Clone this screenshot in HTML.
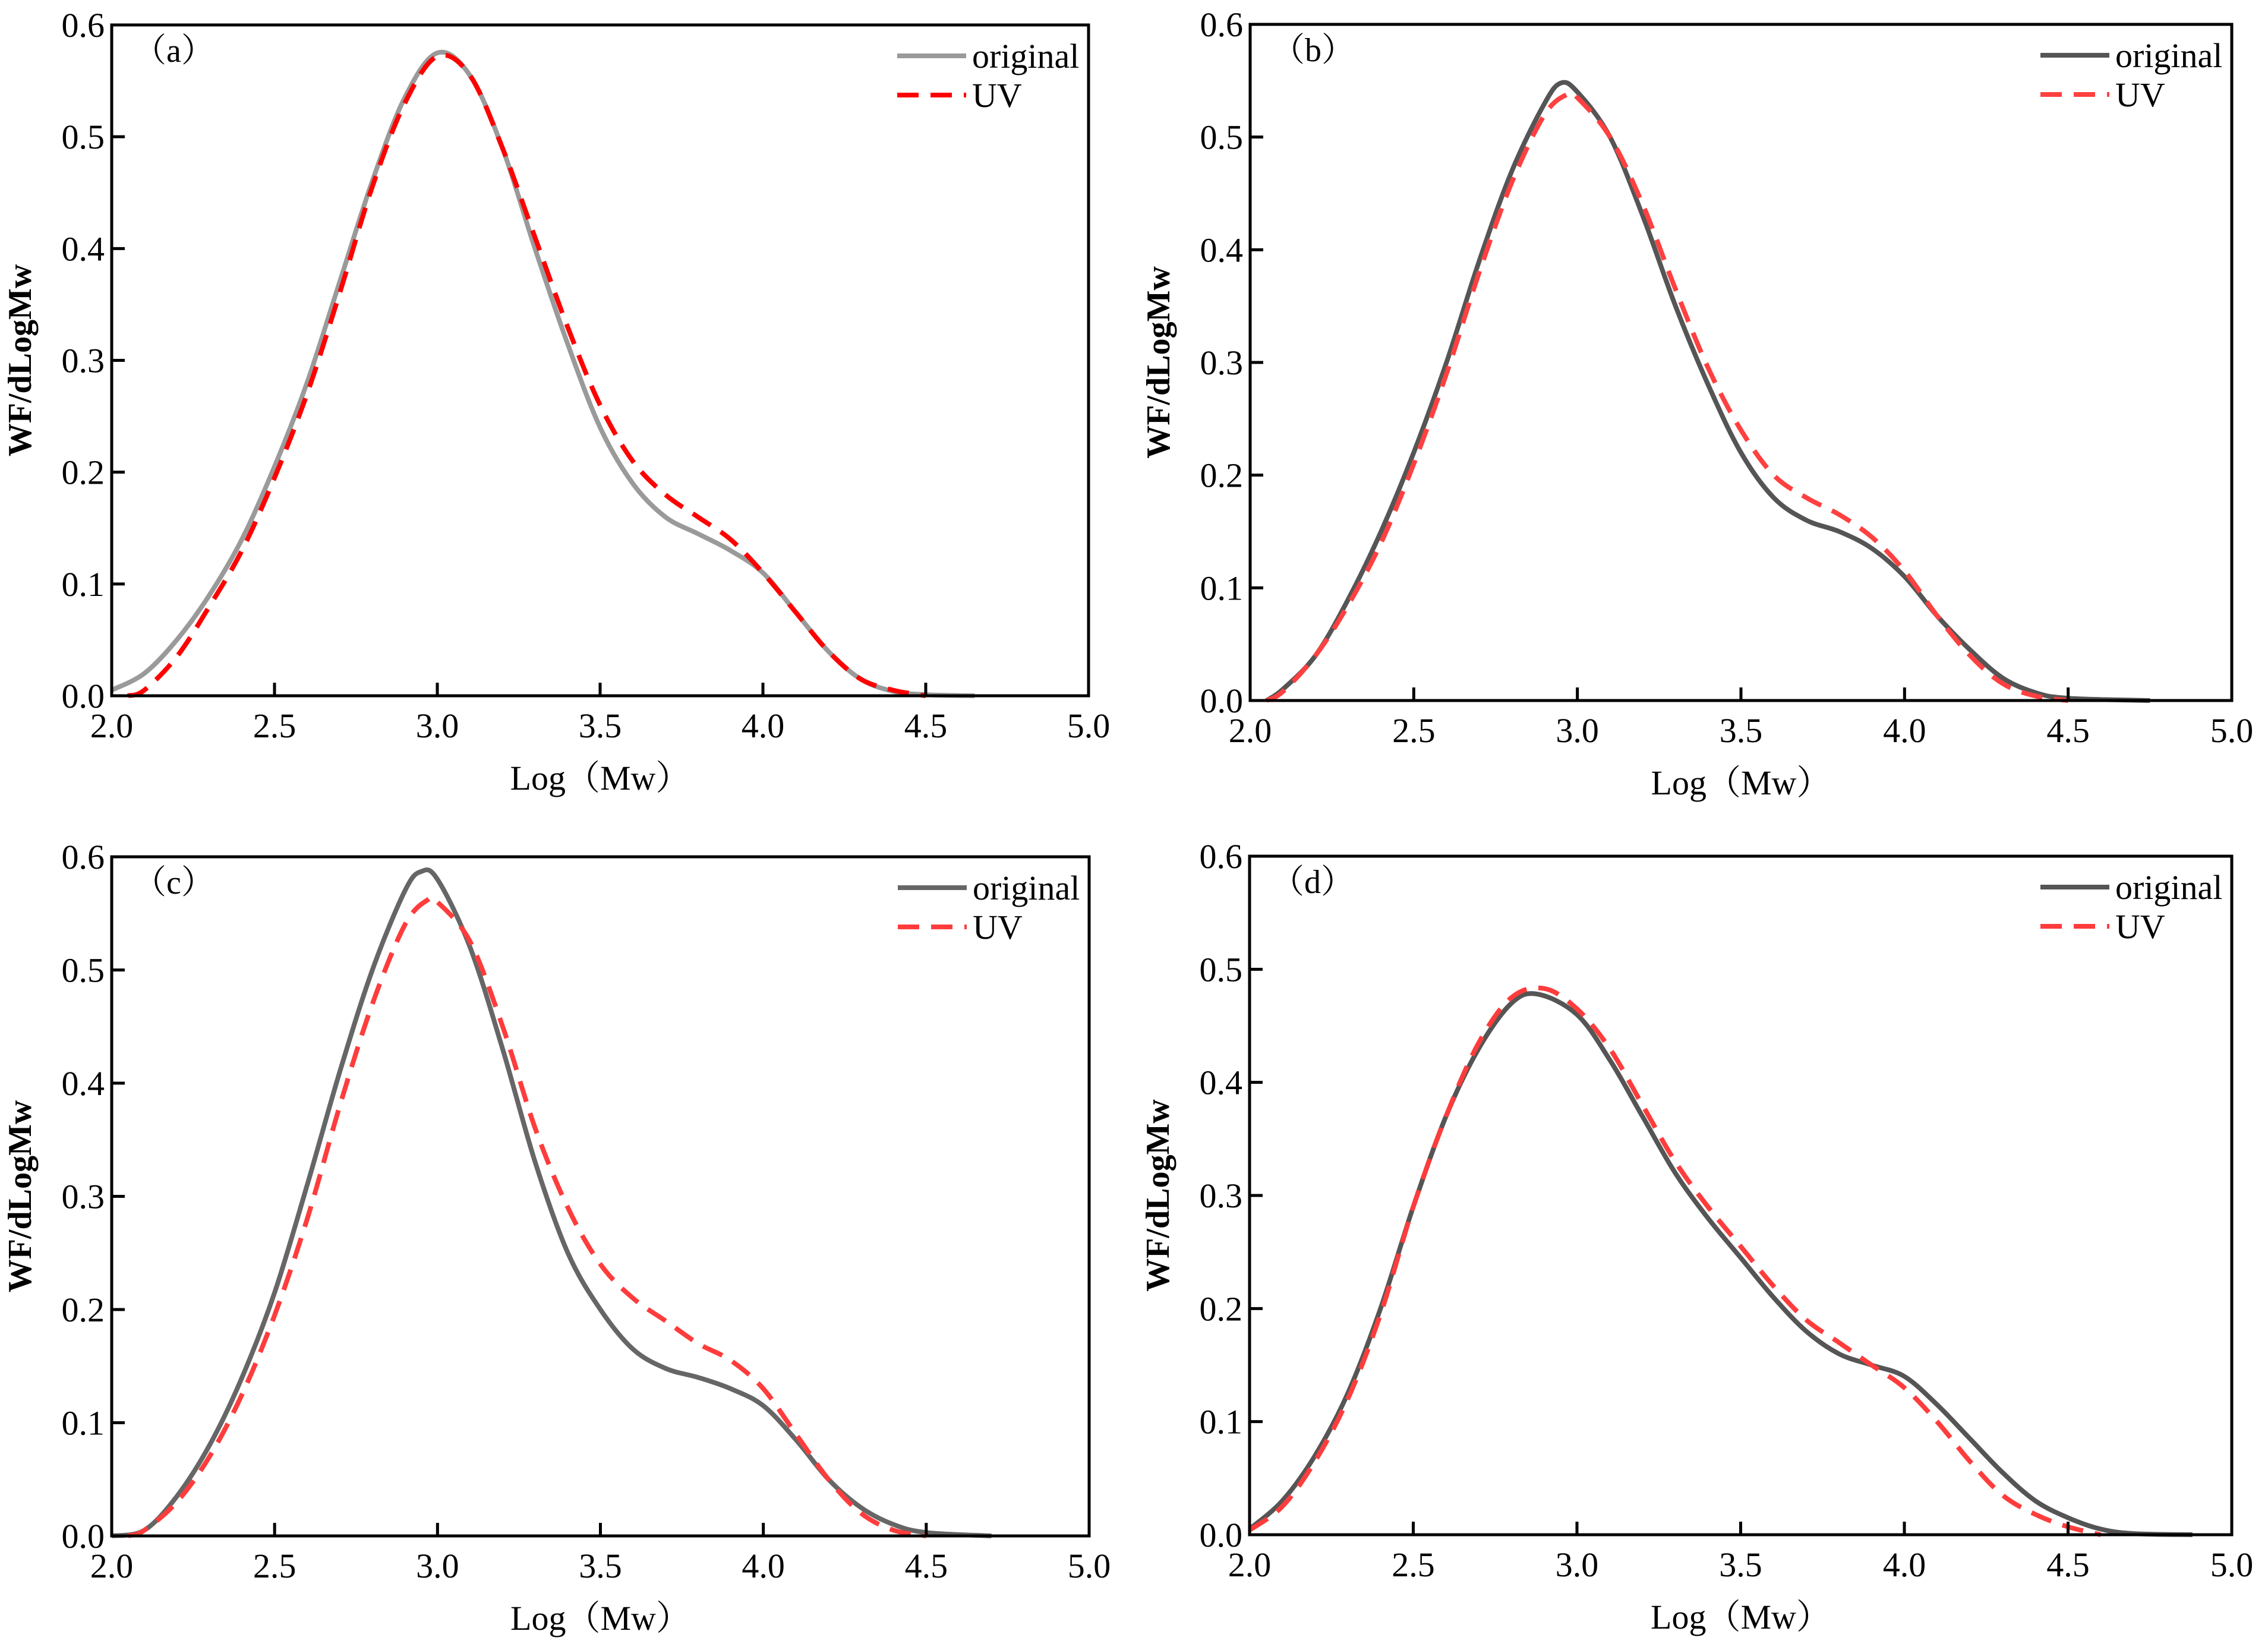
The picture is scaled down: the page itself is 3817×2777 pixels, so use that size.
<!DOCTYPE html>
<html><head><meta charset="utf-8">
<style>
html,body{margin:0;padding:0;background:#fff;}
svg{display:block;}
text{font-family:"Liberation Serif","Noto Serif CJK SC",serif;fill:#000;}
</style></head>
<body>
<svg id="chart" width="3817" height="2777" viewBox="0 0 3817 2777" xmlns="http://www.w3.org/2000/svg"></svg>
<script>
// ---- data ----
const xTicks = [2.0, 2.5, 3.0, 3.5, 4.0, 4.5, 5.0];
const yTicks = [0.0, 0.1, 0.2, 0.3, 0.4, 0.5, 0.6];
const panelLabels = ["（a）", "（b）", "（c）", "（d）"];
const seriesNames = ["original", "UV"];

const aOrigX = [2.0,2.1,2.2,2.3,2.4,2.5,2.6,2.7,2.8,2.9,3.0,3.1,3.2,3.3,3.4,3.5,3.6,3.7,3.8,3.9,4.0,4.1,4.2,4.3,4.4,4.5,4.65];
const aOrigY = [0.005,0.02,0.05,0.09,0.14,0.205,0.28,0.37,0.46,0.535,0.575,0.555,0.49,0.40,0.315,0.24,0.19,0.16,0.145,0.13,0.11,0.075,0.04,0.015,0.004,0.001,0.0];
const aUvX = [2.05,2.1,2.2,2.3,2.4,2.5,2.6,2.7,2.8,2.9,3.0,3.1,3.2,3.3,3.4,3.5,3.6,3.7,3.8,3.9,4.0,4.1,4.2,4.3,4.4,4.5];
const aUvY = [0.0,0.005,0.035,0.08,0.13,0.195,0.27,0.36,0.455,0.53,0.572,0.555,0.49,0.41,0.33,0.26,0.21,0.18,0.16,0.14,0.11,0.075,0.04,0.015,0.005,0.0];

const bOrigX = [2.05,2.1,2.2,2.3,2.4,2.5,2.6,2.7,2.8,2.9,2.95,3.0,3.1,3.2,3.3,3.4,3.5,3.6,3.7,3.8,3.9,4.0,4.1,4.2,4.3,4.4,4.5,4.75];
const bOrigY = [0.0,0.01,0.04,0.09,0.15,0.22,0.30,0.39,0.47,0.53,0.548,0.54,0.50,0.43,0.35,0.28,0.22,0.18,0.16,0.15,0.135,0.11,0.075,0.045,0.02,0.007,0.002,0.0];
const bUvX = [2.05,2.1,2.2,2.3,2.4,2.5,2.6,2.7,2.8,2.9,2.97,3.0,3.1,3.2,3.3,3.4,3.5,3.6,3.7,3.8,3.9,4.0,4.1,4.2,4.3,4.4,4.5];
const bUvY = [0.0,0.008,0.04,0.085,0.14,0.21,0.29,0.38,0.46,0.52,0.538,0.535,0.50,0.44,0.365,0.295,0.24,0.20,0.18,0.165,0.145,0.115,0.075,0.04,0.015,0.004,0.0];

const cOrigX = [2.0,2.1,2.2,2.3,2.4,2.5,2.6,2.7,2.8,2.9,2.95,3.0,3.1,3.2,3.3,3.4,3.5,3.6,3.7,3.8,3.9,4.0,4.1,4.2,4.3,4.4,4.5,4.7];
const cOrigY = [0.0,0.005,0.035,0.08,0.14,0.215,0.31,0.41,0.50,0.57,0.587,0.58,0.52,0.43,0.33,0.25,0.20,0.165,0.148,0.14,0.13,0.115,0.085,0.05,0.025,0.01,0.003,0.0];
const cUvX = [2.05,2.1,2.2,2.3,2.4,2.5,2.6,2.7,2.8,2.9,2.97,3.0,3.1,3.2,3.3,3.4,3.5,3.6,3.7,3.8,3.9,4.0,4.1,4.2,4.3,4.4,4.5];
const cUvY = [0.0,0.005,0.03,0.07,0.125,0.195,0.28,0.38,0.47,0.54,0.562,0.56,0.525,0.45,0.36,0.29,0.24,0.21,0.19,0.17,0.155,0.13,0.09,0.05,0.02,0.005,0.0];

const dOrigX = [2.0,2.1,2.2,2.3,2.4,2.5,2.6,2.7,2.8,2.88,3.0,3.1,3.2,3.3,3.4,3.5,3.6,3.7,3.8,3.9,4.0,4.1,4.2,4.3,4.4,4.5,4.6,4.7,4.88];
const dOrigY = [0.005,0.03,0.07,0.125,0.2,0.29,0.37,0.43,0.47,0.478,0.46,0.42,0.37,0.32,0.28,0.245,0.21,0.18,0.16,0.15,0.14,0.115,0.085,0.055,0.03,0.015,0.005,0.001,0.0];
const dUvX = [2.0,2.1,2.2,2.3,2.4,2.5,2.6,2.7,2.8,2.9,3.0,3.1,3.2,3.3,3.4,3.5,3.6,3.7,3.8,3.9,4.0,4.1,4.2,4.3,4.4,4.5,4.6];
const dUvY = [0.004,0.025,0.065,0.12,0.195,0.29,0.37,0.435,0.475,0.483,0.465,0.43,0.38,0.33,0.29,0.255,0.22,0.19,0.17,0.15,0.13,0.1,0.065,0.035,0.018,0.007,0.0];

const panels = [
  {box:[188,42,1832,1171], orig:[aOrigX,aOrigY], uv:[aUvX,aUvY], oc:"#9a9a9a", uc:"#ff0000"},
  {box:[2104,41,3756,1179], orig:[bOrigX,bOrigY], uv:[bUvX,bUvY], oc:"#555555", uc:"#ff4040"},
  {box:[188,1442,1833,2585], orig:[cOrigX,cOrigY], uv:[cUvX,cUvY], oc:"#666666", uc:"#ff3c3c"},
  {box:[2103,1441,3756,2583], orig:[dOrigX,dOrigY], uv:[dUvX,dUvY], oc:"#555555", uc:"#ff3c3c"}
];

const NS = "http://www.w3.org/2000/svg";
const svg = document.getElementById("chart");
function mk(tag, attrs, parent){
  const e = document.createElementNS(NS, tag);
  for (const k in attrs) e.setAttribute(k, attrs[k]);
  (parent||svg).appendChild(e);
  return e;
}
function smoothPath(pts){
  let d = "M" + pts[0][0].toFixed(1) + "," + pts[0][1].toFixed(1);
  for (let i = 0; i < pts.length - 1; i++){
    const p0 = pts[Math.max(0,i-1)], p1 = pts[i], p2 = pts[i+1], p3 = pts[Math.min(pts.length-1,i+2)];
    const c1x = p1[0] + (p2[0]-p0[0])/6, c1y = p1[1] + (p2[1]-p0[1])/6;
    const c2x = p2[0] - (p3[0]-p1[0])/6, c2y = p2[1] - (p3[1]-p1[1])/6;
    d += " C" + c1x.toFixed(1) + "," + c1y.toFixed(1) + " " + c2x.toFixed(1) + "," + c2y.toFixed(1) + " " + p2[0].toFixed(1) + "," + p2[1].toFixed(1);
  }
  return d;
}

panels.forEach((p, idx) => {
  const [L,T,R,B] = p.box;
  const g = mk("g", {});
  
  
  const xs = v => L + (v - 2) / 3 * (R - L);
  const ys = v => B - v / 0.6 * (B - T);

  const po = p.orig[0].map((x,i) => [xs(x), ys(p.orig[1][i])]);
  const lo = mk("path", {d: smoothPath(po), fill:"none", stroke:p.oc, "stroke-width":8, "stroke-linejoin":"round"}, g);
  
  
  const pu = p.uv[0].map((x,i) => [xs(x), ys(p.uv[1][i])]);
  const lu = mk("path", {d: smoothPath(pu), fill:"none", stroke:p.uc, "stroke-width":8, "stroke-dasharray":"36,20"}, g);
  
  

  const fr = mk("rect", {x:L, y:T, width:R-L, height:B-T, fill:"none", stroke:"#000", "stroke-width":5}, g);
  
  

  xTicks.forEach(t => {
    const x = xs(t);
    mk("line", {x1:x, y1:B, x2:x, y2:B-22, stroke:"#000", "stroke-width":5}, g);
    const tx = mk("text", {x:x, y:B+70, "font-size":58, "text-anchor":"middle"}, g);
    tx.textContent = t.toFixed(1);
    
    
  });
  yTicks.forEach(t => {
    const y = ys(t);
    mk("line", {x1:L, y1:y, x2:L+22, y2:y, stroke:"#000", "stroke-width":5}, g);
    const ty = mk("text", {x:L-12, y:y+20, "font-size":58, "text-anchor":"end"}, g);
    ty.textContent = t.toFixed(1);
    
    
  });
  const xt = mk("text", {x:(L+R)/2, y:B+158, "font-size":58, "text-anchor":"middle"}, g);
  xt.textContent = "Log（Mw）";
  
  
  const cy = (T+B)/2;
  const yt = mk("text", {x:L-136, y:cy, "font-size":56, "font-weight":"bold", "text-anchor":"middle", transform:"rotate(-90 " + (L-136) + " " + cy + ")"}, g);
  yt.textContent = "WF/dLogMw";
  
  
  const pl = mk("text", {x:L+36, y:T+62, "font-size":56}, g);
  pl.textContent = panelLabels[idx];
  
  
  const lx1 = R - 322, lx2 = R - 206;
  const l1 = mk("line", {x1:lx1, y1:T+52, x2:lx2, y2:T+52, stroke:p.oc, "stroke-width":8}, g);
  
  
  const t1 = mk("text", {x:lx2+10, y:T+72, "font-size":58}, g);
  t1.textContent = seriesNames[0];
  
  
  const l2 = mk("line", {x1:lx1, y1:T+118, x2:lx2, y2:T+118, stroke:p.uc, "stroke-width":8, "stroke-dasharray":"36,20"}, g);
  
  
  const t2 = mk("text", {x:lx2+10, y:T+138, "font-size":58}, g);
  t2.textContent = seriesNames[1];
  
  
});
</script>
</body></html>
